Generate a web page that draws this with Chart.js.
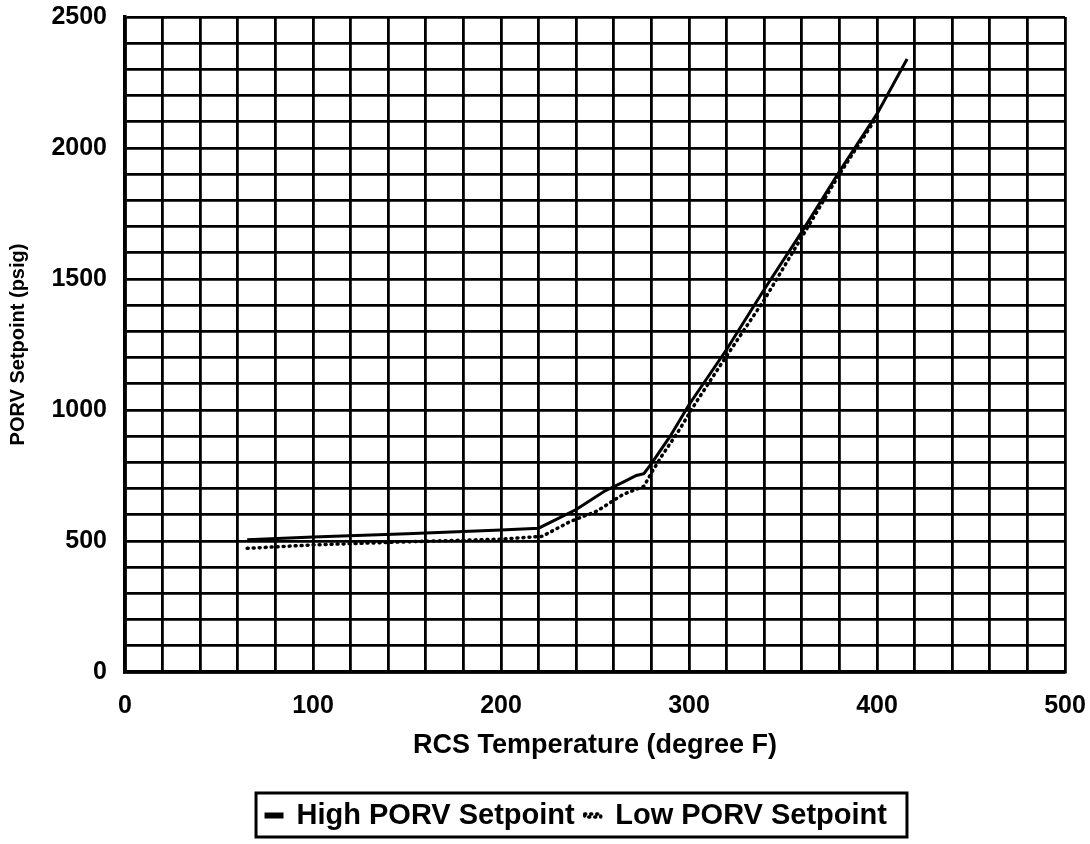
<!DOCTYPE html>
<html>
<head>
<meta charset="utf-8">
<script src="https://cdn.jsdelivr.net/npm/chart.js@4"></script>
<style>
  html, body { margin: 0; padding: 0; background: #fff; }
  #wrap { width: 1090px; height: 844px; }
</style>
</head>
<body>
<div id="wrap"><canvas id="porvChart" width="1090" height="844"></canvas></div>
<script>
// RCS temperature (degree F) and setpoints (psig)
const highTemps = [65, 100, 150, 200, 220, 240, 255, 265, 272, 276, 280, 290, 300, 320, 340, 360, 380, 400, 416];
const highSetpoints = [505, 515, 528, 542, 549, 620, 690, 725, 750, 757, 795, 900, 1020, 1231, 1460, 1680, 1910, 2130, 2340];

const lowTemps = [65, 100, 150, 200, 222, 237, 251, 265, 276, 280, 285, 295, 303, 317, 340, 360, 380, 400];
const lowSetpoints = [472, 485, 497, 507, 518, 575, 614, 678, 709, 760, 819, 926, 1021, 1174, 1420, 1660, 1900, 2120];

const xLabels = [0, 100, 200, 300, 400, 500];
const yLabels = [0, 500, 1000, 1500, 2000, 2500];

const toPoints = (xs, ys) => xs.map((x, i) => ({ x: x, y: ys[i] }));

// the legend sits a little right of centre in the scan
const legendShift = 44;

const legendFrame = {
    id: 'legendFrame',
    afterLayout(chart) {
        const lg = chart.legend;
        if (!lg) return;
        lg.left += legendShift;
        lg.right += legendShift;
    },
    afterDraw(chart) {
        const lg = chart.legend;
        if (!lg || !lg.legendHitBoxes || !lg.legendHitBoxes.length) return;
        const boxes = lg.legendHitBoxes;
        const first = boxes[0];
        const last = boxes[boxes.length - 1];
        const ctx = chart.ctx;
        ctx.save();
        ctx.strokeStyle = '#000';
        ctx.lineWidth = 3;
        const l = first.left - 10, r = last.left + last.width + 20;
        ctx.strokeRect(l, lg.top + 2, r - l, lg.bottom - lg.top - 5);
        ctx.restore();
    }
};

const font = "'Liberation Sans', Arial, sans-serif";

new Chart(document.getElementById('porvChart'), {
    type: 'line',
    data: {
        datasets: [{
            label: 'High PORV Setpoint',
            data: toPoints(highTemps, highSetpoints),
            borderColor: '#000',
            backgroundColor: '#000',
            borderWidth: 3,
            pointRadius: 0,
            tension: 0
        }, {
            label: 'Low PORV Setpoint',
            data: toPoints(lowTemps, lowSetpoints),
            borderColor: '#000',
            backgroundColor: 'rgba(0,0,0,0)',
            borderWidth: 3.5,
            borderDash: [1, 5],
            borderCapStyle: 'round',
            pointRadius: 0,
            tension: 0
        }]
    },
    options: {
        responsive: false,
        animation: false,
        layout: { padding: { top: 17, right: 25, bottom: 4, left: 0 } },
        scales: {
            x: {
                type: 'linear',
                min: 0,
                max: 500,
                afterFit: scale => {
                    scale.height = 119;
                    scale.paddingLeft = 0;
                    scale.paddingRight = 0;
                },
                border: { color: '#000', width: 3.5 },
                grid: { color: '#000', lineWidth: 2.8, drawTicks: false },
                ticks: {
                    stepSize: 20,
                    autoSkip: false,
                    maxRotation: 0,
                    padding: 19,
                    color: '#000',
                    font: { family: font, size: 25, weight: 'bold' },
                    callback: v => xLabels.includes(v) ? String(v) : ''
                },
                title: {
                    display: true,
                    text: 'RCS Temperature (degree F)',
                    color: '#000',
                    font: { family: font, size: 27, weight: 'bold' },
                    padding: { top: 4, bottom: 29 }
                }
            },
            y: {
                min: 0,
                max: 2500,
                afterFit: scale => {
                    scale.width = 125;
                    scale.paddingTop = 0;
                    scale.paddingBottom = 0;
                },
                border: { color: '#000', width: 3.5 },
                grid: { color: '#000', lineWidth: 2.8, drawTicks: false },
                ticks: {
                    stepSize: 100,
                    autoSkip: false,
                    padding: 18,
                    color: '#000',
                    font: { family: font, size: 25, weight: 'bold' },
                    callback: v => yLabels.includes(v) ? String(v) : ''
                },
                title: {
                    display: true,
                    text: 'PORV Setpoint (psig)',
                    color: '#000',
                    font: { family: font, size: 20, weight: 'bold' },
                    padding: { top: 6, bottom: 4 }
                }
            }
        },
        plugins: {
            legend: {
                position: 'bottom',
                labels: {
                    color: '#000',
                    font: { family: font, size: 29, weight: 'bold' },
                    boxWidth: 16,
                    boxHeight: 3,
                    padding: 10
                }
            },
            tooltip: { enabled: false }
        }
    },
    plugins: [legendFrame]
});
</script>
</body>
</html>
